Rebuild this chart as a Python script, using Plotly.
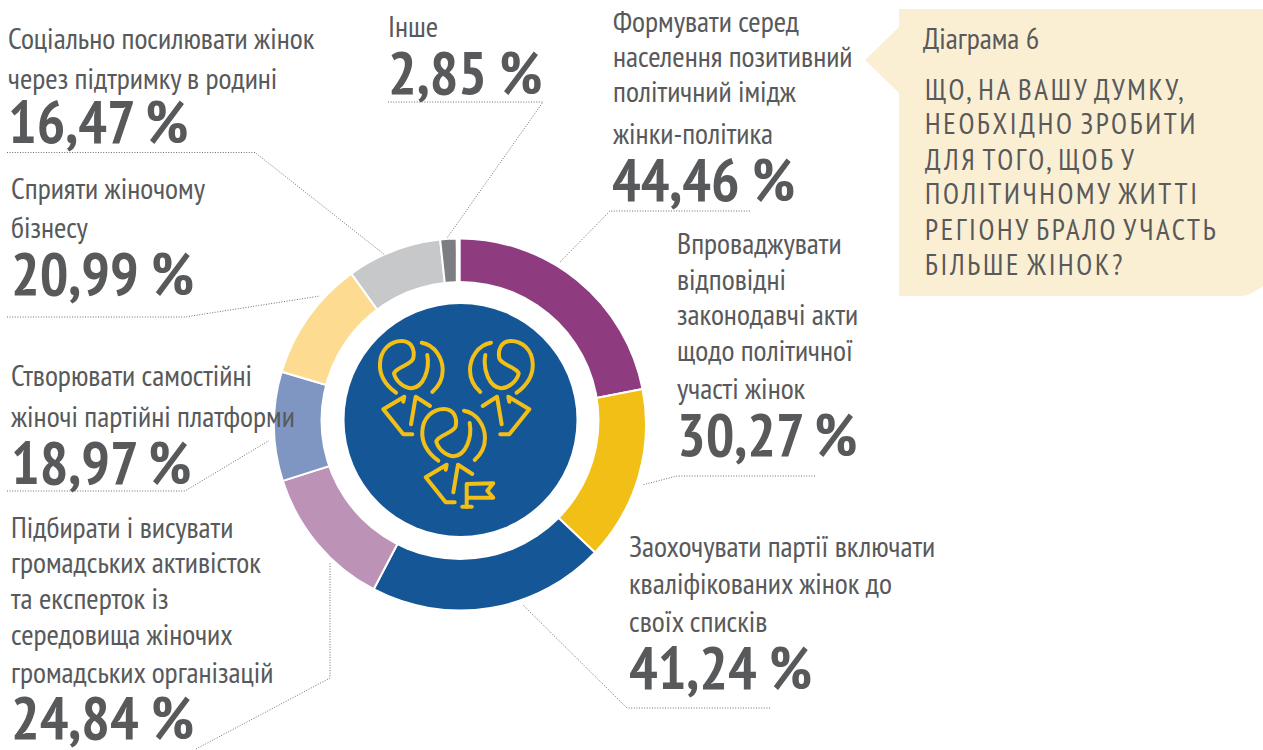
import plotly.graph_objects as go

W, H = 1263, 750
labels = ["Формувати серед населення позитивний політичний імідж жінки-політика",
          "Впроваджувати відповідні законодавчі акти щодо політичної участі жінок",
          "Заохочувати партії включати кваліфікованих жінок до своїх списків",
          "Підбирати і висувати громадських активісток та експерток із середовища жіночих громадських організацій",
          "Створювати самостійні жіночі партійні платформи",
          "Сприяти жіночому бізнесу",
          "Соціально посилювати жінок через підтримку в родині",
          "Інше"]
values = [44.46, 30.27, 41.24, 24.84, 18.97, 20.99, 16.47, 2.85]
colors = ["#8e3b80", "#f2bf17", "#155696", "#bd92b7", "#7f96c2", "#fddc91", "#c6c8ca", "#7c7e82"]
FONT = "Liberation Sans Narrow, PT Sans Narrow, Arial Narrow, sans-serif"
GREY = "#58595b"
ICON = "#f2bf17"

px = lambda x: x / W
py = lambda y: 1 - y / H

fig = go.Figure(go.Pie(values=values, labels=labels, sort=False, direction="clockwise", rotation=-1,
                       marker=dict(colors=colors, line=dict(color="white", width=2)),
                       textinfo="none", hoverinfo="label+value", showlegend=False,
                       domain=dict(x=[px(460 - 186), px(460 + 186)], y=[py(424.5 + 186), py(424.5 - 186)])))

shapes = []
def circle(cx, cy, r, color):
    shapes.append(dict(type="circle", xref="x", yref="y", x0=cx - r, x1=cx + r, y0=cy - r, y1=cy + r,
                       fillcolor=color, line=dict(width=0), layer="above"))
circle(460, 420.5, 139.5, "white")
circle(460.5, 420, 116, "#155696")
# small white gap at the top of the ring, between the last and the first slice
shapes.append(dict(type="rect", xref="x", yref="y", x0=455.8, x1=460.7, y0=236, y1=284,
                   fillcolor="white", line=dict(width=0), layer="above"))

def dotted(points):
    d = "M" + " L".join(f"{x},{y}" for x, y in points)
    shapes.append(dict(type="path", xref="x", yref="y", path=d,
                       line=dict(color="#6d6e71", width=1, dash="1px,1.6px"), layer="above"))

dotted([(7, 152.5), (255, 152.5), (385, 255)])
dotted([(7, 317), (185, 317), (320, 296)])
dotted([(7, 491), (185, 491), (269, 440.5)])
dotted([(196, 749), (330, 678), (330, 562)])
dotted([(388, 102), (543, 102), (447, 238)])
dotted([(750, 211), (610, 211), (560, 262)])
dotted([(815, 476), (677, 476), (642, 485)])
dotted([(770, 708), (627, 708), (523, 605)])

# callout
shapes.append(dict(type="path", xref="x", yref="y",
                   path="M899,9 L1263,9 L1263,286 Q1250,296 1240,296 L899,296 L899,93 L865,60 L899,27 Z",
                   fillcolor="#fbefd3", line=dict(width=0), layer="below"))

# icon outline, one figure, in a local drawing grid
FIG = [
    [("M", 78, 188), ("C", 40, 160, 28, 130, 30, 100), ("C", 32, 60, 60, 33, 95, 33), ("C", 125, 33, 135, 60, 130, 85),
     ("C", 125, 105, 80, 110, 72, 130), ("C", 75, 150, 100, 175, 125, 175), ("C", 160, 172, 180, 120, 172, 75)],
    [("M", 155, 38), ("C", 195, 45, 218, 85, 218, 120), ("C", 218, 150, 205, 170, 187, 186)],
    [("M", 100, 215), ("L", 103, 200), ("L", 40, 238), ("L", 100, 313), ("L", 127, 313)],
    [("M", 123, 283), ("L", 137, 200), ("L", 180, 228)],
]
FLAG = [
    [("M", 290, 530), ("L", 290, 462), ("L", 370, 460), ("L", 352, 482), ("L", 370, 503), ("L", 290, 503)],
    [("M", 277, 530), ("L", 305, 530)],
]
def icon(paths, fx=lambda x: x, fy=lambda y: y):
    for p in paths:
        d = ""
        for seg in p:
            c = seg[0]
            nums = seg[1:]
            pts = [f"{370 + fx(nums[i]) / 3:.1f},{330 + fy(nums[i + 1]) / 3:.1f}" for i in range(0, len(nums), 2)]
            d += c + " ".join(pts) + " "
        shapes.append(dict(type="path", xref="x", yref="y", path=d.strip(), line=dict(color=ICON, width=4), layer="above"))
icon(FIG)
icon(FIG, fx=lambda x: 518 - x)
icon(FIG, fx=lambda x: x + 127, fy=lambda y: y + 204)
icon(FLAG)

N, B = 30, 60
texts = [
 ("Соціально посилювати жінок", 7, 37.5, N, False), ("через підтримку в родині", 7, 77.5, N, False), ("16,47 %", 7, 120.5, B, True),
 ("Сприяти жіночому", 10, 187.5, N, False), ("бізнесу", 10, 226.5, N, False), ("20,99 %", 10, 272.5, B, True),
 ("Створювати самостійні", 10, 374.5, N, False), ("жіночі партійні платформи", 10, 415.5, N, False), ("18,97 %", 10, 461.5, B, True),
 ("Підбирати і висувати", 10, 526.5, N, False), ("громадських активісток", 10, 561.5, N, False), ("та експерток із", 10, 597.5, N, False),
 ("середовища жіночих", 10, 633.5, N, False), ("громадських організацій", 10, 671.5, N, False), ("24,84 %", 10, 716.5, B, True),
 ("Інше", 387, 25.5, N, False), ("2,85 %", 387, 71.5, B, True),
 ("Формувати серед", 612, 20.5, N, False), ("населення позитивний", 612, 55.5, N, False), ("політичний імідж", 612, 90.5, N, False),
 ("жінки-політика", 612, 132.5, N, False), ("44,46 %", 611, 178.5, B, True),
 ("Впроваджувати", 676, 242.5, N, False), ("відповідні", 676, 278.5, N, False), ("законодавчі акти", 676, 313.5, N, False),
 ("щодо політичної", 676, 349.5, N, False), ("участі жінок", 676, 387.5, N, False), ("30,27 %", 676, 433.5, B, True),
 ("Заохочувати партії включати", 628, 545.5, N, False), ("кваліфікованих жінок до", 628, 582.5, N, False), ("своїх списків", 628, 620.5, N, False),
 ("41,24 %", 628, 666.5, B, True),
 ("Діаграма 6", 922, 37, N, False),
 ("ЩО, НА ВАШУ ДУМКУ,", 924, 88.5, 29, False), ("НЕОБХІДНО ЗРОБИТИ", 924, 122.5, 29, False), ("ДЛЯ ТОГО, ЩОБ У", 924, 158.5, 29, False),
 ("ПОЛІТИЧНОМУ ЖИТТІ", 924, 192.5, 29, False), ("РЕГІОНУ БРАЛО УЧАСТЬ", 924, 228.5, 29, False), ("БІЛЬШЕ ЖІНОК?", 924, 263.5, 29, False),
]
ann = [dict(text=(f"<b>{t}</b>" if b else t), x=x, y=y, xref="x", yref="y", xanchor="left", yanchor="middle", align="left",
            showarrow=False, borderpad=0, font=dict(family=FONT, size=s, color=GREY)) for t, x, y, s, b in texts]

fig.update_layout(width=W, height=H, margin=dict(l=0, r=0, t=0, b=0), paper_bgcolor="white", plot_bgcolor="rgba(0,0,0,0)",
                  xaxis=dict(range=[0, W], visible=False, fixedrange=True), yaxis=dict(range=[H, 0], visible=False, fixedrange=True),
                  shapes=shapes, annotations=ann)
POST = """
document.body.style.margin='0';document.documentElement.style.overflow='hidden';
document.querySelectorAll('.annotation-text').forEach(function(t){
  if(/^[А-ЯЄІЇҐ ,?]+$/.test(t.textContent)){t.style.letterSpacing='2.7px';t.style.wordSpacing='-3px';}
});
document.querySelectorAll('.shapelayer path').forEach(function(p){
  if(p.style.stroke==='rgb(242, 191, 23)'){p.style.strokeLinecap='round';p.style.strokeLinejoin='round';}
});
"""
fig.write_html("out.html", config={"displayModeBar": False}, post_script=POST)
